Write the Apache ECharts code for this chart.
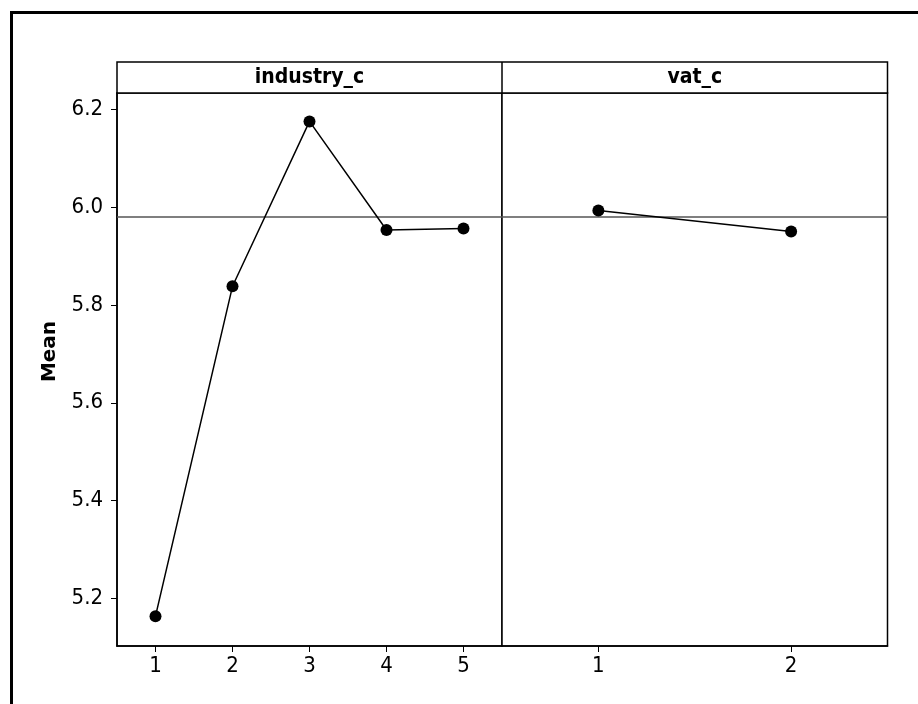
<!DOCTYPE html>
<html><head><meta charset="utf-8">
<script src="https://cdn.jsdelivr.net/npm/echarts@6/dist/echarts.min.js"></script>
<style>html,body{margin:0;padding:0;background:#fff}#c{width:918px;height:704px}</style>
</head><body><div id="c"></div>
<script>
// ---- data ----
const panelTitles = ['industry_c', 'vat_c'];
const industryCats = ['1', '2', '3', '4', '5'];
const industryMeans = [5.164, 5.838, 6.175, 5.953, 5.956];
const vatCats = ['1', '2'];
const vatMeans = [5.993, 5.950];
const grandMean = 5.978;
const yTicks = [5.2, 5.4, 5.6, 5.8, 6.0, 6.2];
const yMin = 5.103, yMax = 6.233;
const yName = 'Mean';

// ---- layout ----
const L = 117, M = 502, R = 887.5, T = 93, B = 646, ST = 62;
const FONT = 'DejaVu Sans Condensed';

const chart = echarts.init(document.getElementById('c'));
function xAx(i, cats) {
  return {
    type: 'category', gridIndex: i, data: cats, boundaryGap: true,
    axisLine: {show: true, lineStyle: {color: '#000', width: 1.5}},
    axisTick: {show: true, alignWithLabel: true, length: 6, lineStyle: {color: '#000', width: 1}},
    axisLabel: {color: '#000', fontFamily: FONT, fontSize: 22, margin: 9},
    splitLine: {show: false}
  };
}
function yAx(i, showLabels) {
  return {
    type: 'value', gridIndex: i, min: yMin, max: yMax,
    name: showLabels ? yName : '', nameLocation: 'middle', nameRotate: 90, nameGap: 57,
    nameTextStyle: {color: '#000', fontFamily: 'DejaVu Sans', fontSize: 20, fontWeight: 'bold', padding: [0, 0, 0, 36]},
    axisLine: {show: showLabels, lineStyle: {color: '#000', width: 1.5}},
    axisTick: {show: showLabels, length: 6, customValues: yTicks, lineStyle: {color: '#000', width: 1}},
    axisLabel: {show: showLabels, customValues: yTicks, color: '#000', fontFamily: FONT, fontSize: 22, margin: 14,
      formatter: v => (+v).toFixed(1)},
    splitLine: {show: false}
  };
}
function ser(i, vals) {
  return {
    type: 'line', xAxisIndex: i, yAxisIndex: i, data: vals,
    symbol: 'circle', symbolSize: 12, itemStyle: {color: '#000'},
    lineStyle: {color: '#000', width: 1.5}, silent: true, z: 3,
    markLine: {silent: true, symbol: ['none', 'none'], label: {show: false},
      lineStyle: {color: '#555', width: 1.5, type: 'solid'}, data: [{yAxis: grandMean}], z: 2}
  };
}
chart.setOption({
  animation: false,
  backgroundColor: '#fff',
  grid: [
    {left: L, top: T, width: M - L, height: B - T, show: true, borderColor: '#000', borderWidth: 1.5, backgroundColor: '#fff'},
    {left: M, top: T, width: R - M, height: B - T, show: true, borderColor: '#000', borderWidth: 1.5, backgroundColor: '#fff'}
  ],
  xAxis: [xAx(0, industryCats), xAx(1, vatCats)],
  yAxis: [yAx(0, true), yAx(1, false)],
  series: [ser(0, industryMeans), ser(1, vatMeans)],
  graphic: [
    {type: 'rect', shape: {x: 11.5, y: 12.5, width: 940, height: 720}, style: {fill: 'none', stroke: '#000', lineWidth: 3}, silent: true},
    {type: 'rect', shape: {x: L, y: ST, width: R - L, height: T - ST}, style: {fill: '#fff', stroke: '#000', lineWidth: 1.5}, silent: true},
    {type: 'line', shape: {x1: M, y1: ST, x2: M, y2: T}, style: {stroke: '#000', lineWidth: 1.5}, silent: true},
    {type: 'text', x: (L + M) / 2, y: (ST + T) / 2, style: {text: panelTitles[0], fill: '#000', font: 'bold 21px "' + FONT + '"', textAlign: 'center', textVerticalAlign: 'middle'}, silent: true},
    {type: 'text', x: (M + R) / 2, y: (ST + T) / 2, style: {text: panelTitles[1], fill: '#000', font: 'bold 21px "' + FONT + '"', textAlign: 'center', textVerticalAlign: 'middle'}, silent: true}
  ]
});
</script></body></html>
